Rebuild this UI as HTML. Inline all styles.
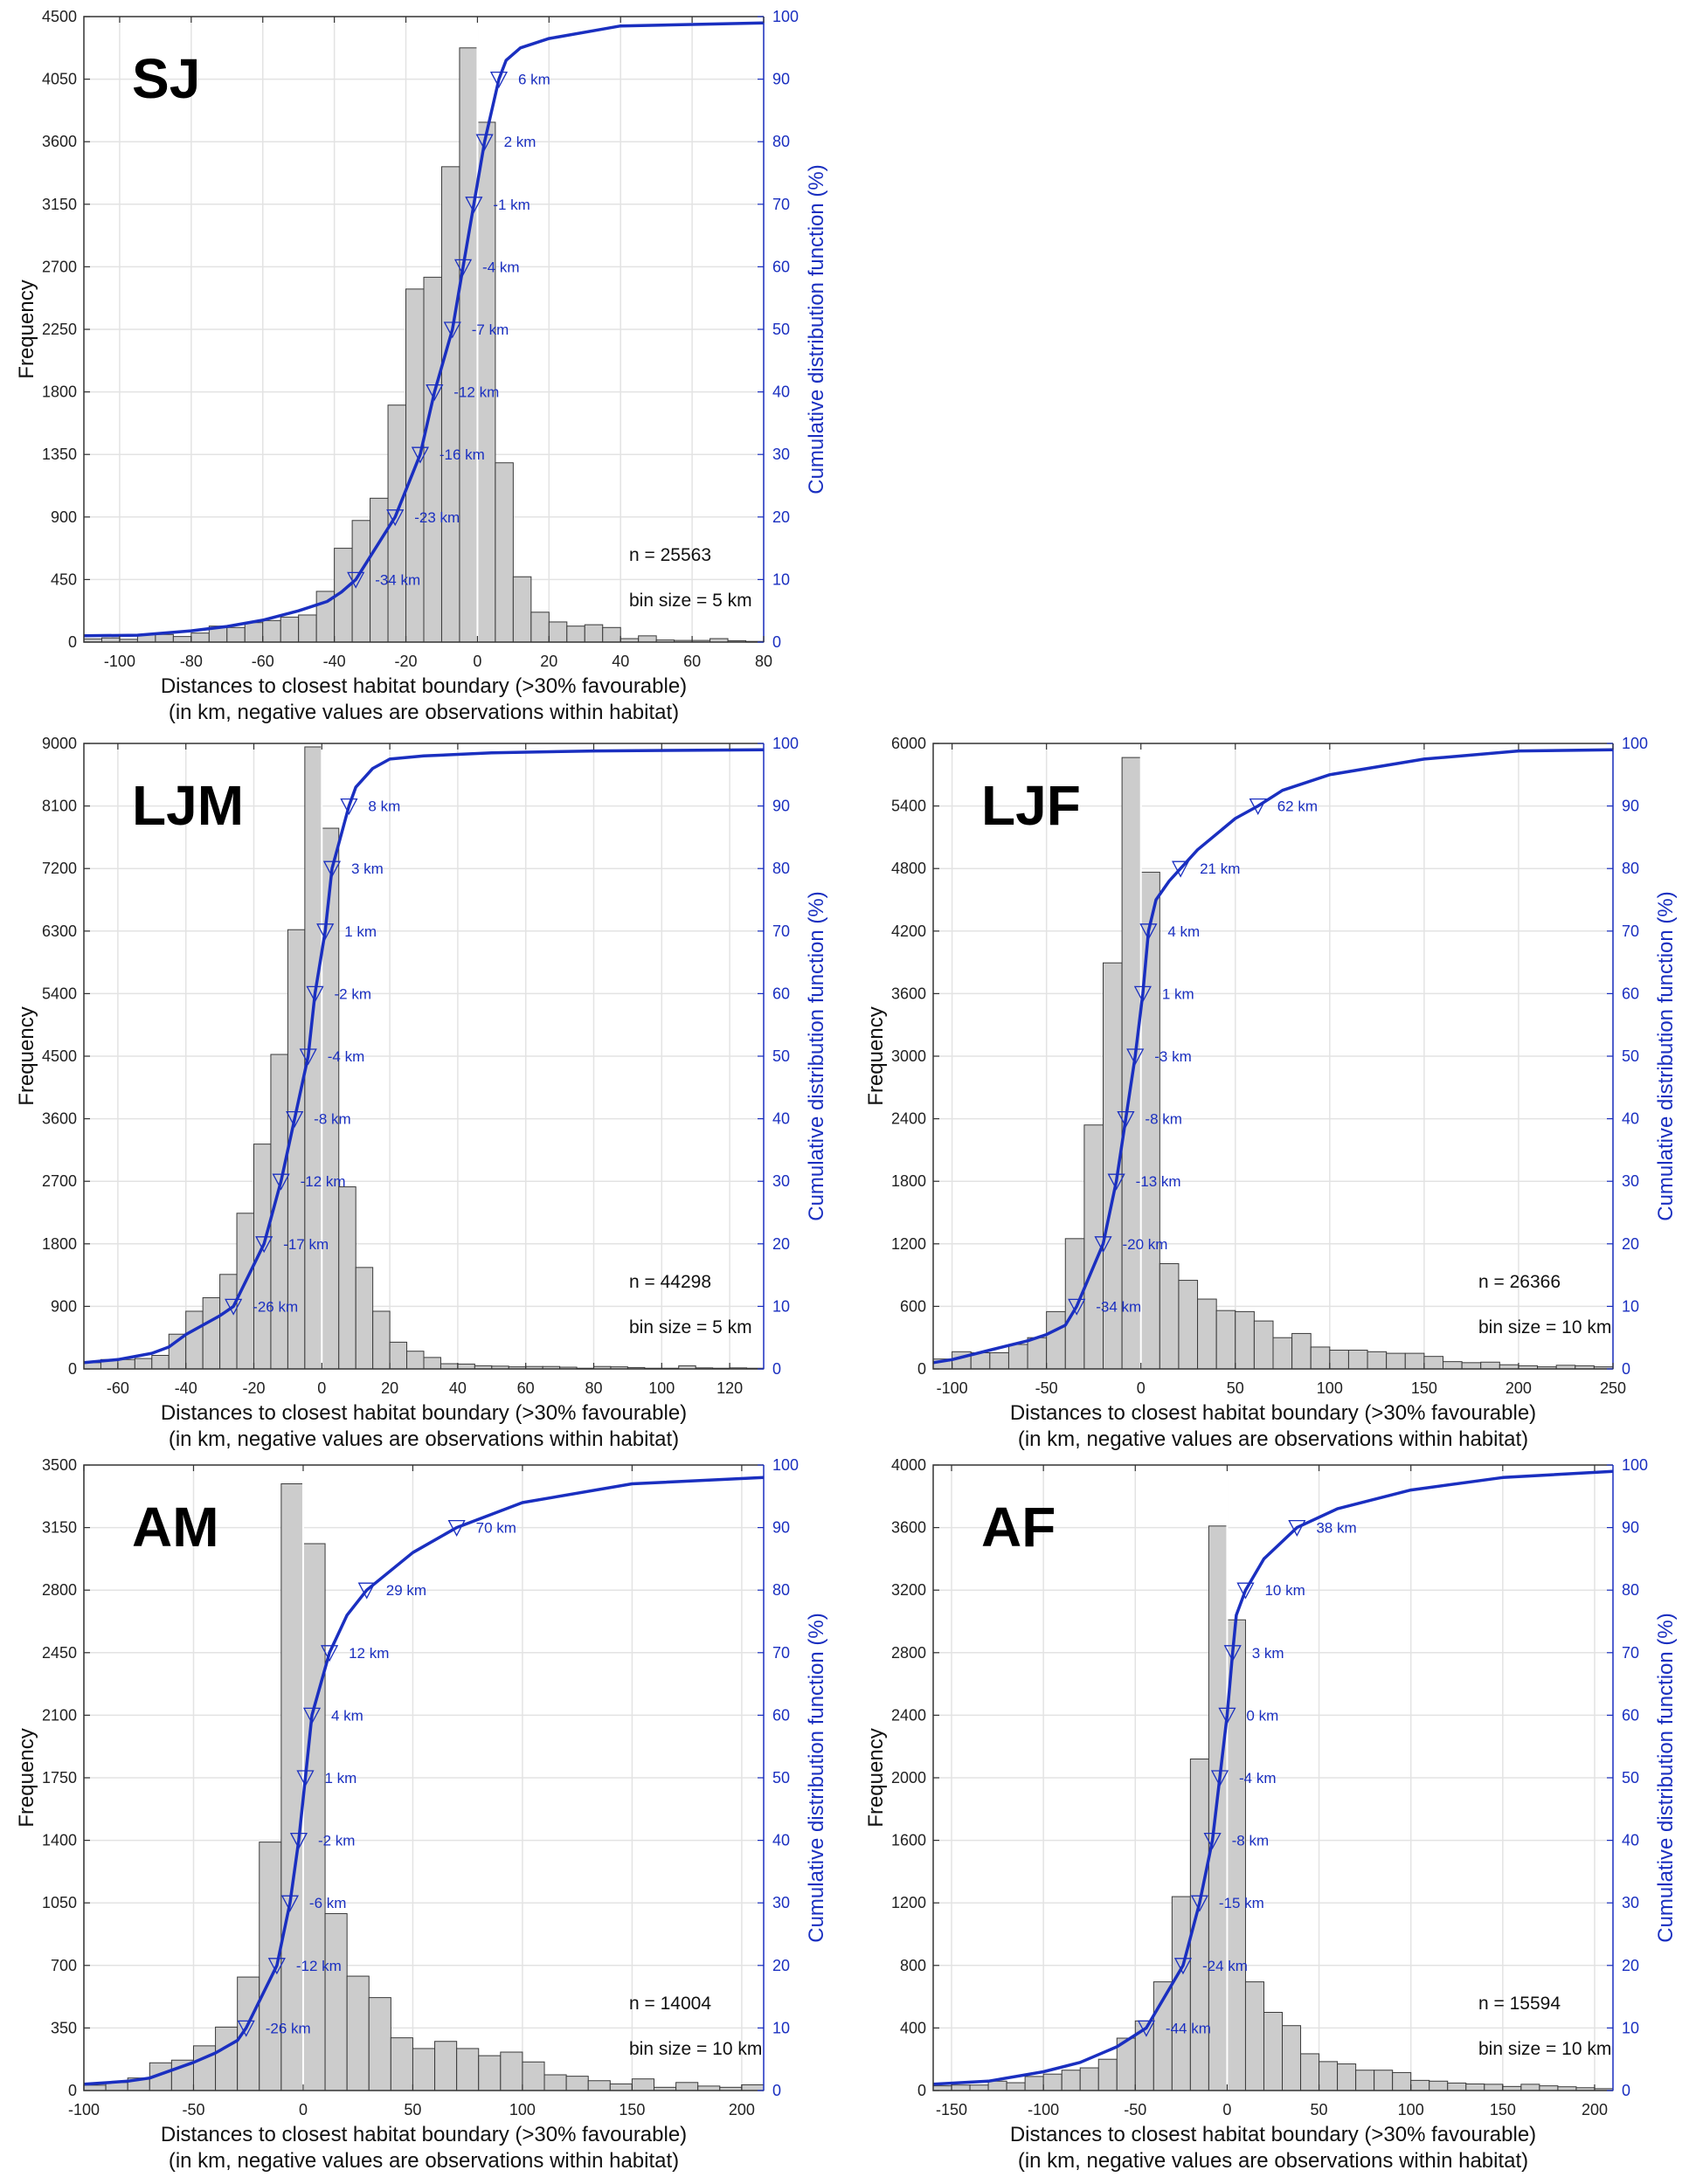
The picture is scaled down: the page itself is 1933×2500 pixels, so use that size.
<!DOCTYPE html>
<html><head><meta charset="utf-8"><style>
html,body{margin:0;padding:0;background:#fff;}
svg{display:block;font-family:"Liberation Sans",Arial,sans-serif;}
</style></head><body>
<svg id="fig" width="1933" height="2500" viewBox="0 0 1933 2500"></svg>
<script>
// ---------- SJ ----------
const sjCounts=[23,30,20,55,55,40,65,115,105,140,155,180,195,365,675,875,1035,1705,2540,2625,3420,4275,3740,1290,470,215,145,115,125,105,25,45,15,12,12,25,10,5];
const sjCdfX=[-110,-95,-80,-70,-60,-50,-42,-38,-34,-23,-16,-12,-7,-4,-1,2,6,8,12,20,35,40,80];
const sjCdfY=[1,1.1,1.8,2.5,3.5,5,6.5,8,10,20,30,40,50,60,70,80,90,93,95,96.5,98,98.5,99];
const sjMarkX=[-34,-23,-16,-12,-7,-4,-1,2,6];
const sjXTicks=[-100,-80,-60,-40,-20,0,20,40,60,80];
// ---------- LJM ----------
const ljmCounts=[90,135,135,150,195,500,830,1025,1360,2240,3235,4525,6320,8950,7780,2620,1460,830,385,255,165,75,70,45,40,30,35,35,25,10,35,30,20,10,10,45,15,10,15,10];
const ljmCdfX=[-70,-60,-50,-45,-40,-35,-30,-26,-17,-12,-8,-4,-2,1,3,8,10,15,20,30,50,80,130];
const ljmCdfY=[1,1.5,2.5,3.5,5.5,7,8.5,10,20,30,40,50,60,70,80,90,93,96,97.5,98,98.5,98.8,99];
const ljmMarkX=[-26,-17,-12,-8,-4,-2,1,3,8];
const ljmXTicks=[-60,-40,-20,0,20,40,60,80,100,120];
// ---------- LJF ----------
const ljfCounts=[95,165,155,155,235,300,550,1250,2340,3895,5865,4765,1010,850,670,560,550,460,300,340,210,180,180,165,150,150,120,70,60,65,40,30,20,35,30,20];
const ljfCdfX=[-110,-100,-80,-60,-50,-40,-34,-20,-13,-8,-3,1,4,8,15,21,30,50,62,75,100,150,200,250];
const ljfCdfY=[1,1.5,3,4.5,5.5,7,10,20,30,40,50,60,70,75,78,80,83,88,90,92.5,95,97.5,98.8,99];
const ljfMarkX=[-34,-20,-13,-8,-3,1,4,21,62];
const ljfXTicks=[-100,-50,0,50,100,150,200,250];
// ---------- AM ----------
const amCounts=[30,45,70,155,170,250,355,635,1390,3395,3060,990,640,520,295,235,275,235,195,215,160,88,80,55,37,65,18,45,25,18,32];
const amCdfX=[-100,-80,-70,-50,-40,-30,-26,-12,-6,-2,1,4,12,20,29,50,70,100,150,210];
const amCdfY=[1,1.5,2,4.5,6,8,10,20,30,40,50,60,70,76,80,86,90,94,97,98];
const amMarkX=[-26,-12,-6,-2,1,4,12,29,70];
const amXTicks=[-100,-50,0,50,100,150,200];
// ---------- AF ----------
const afCounts=[30,35,35,60,50,90,105,130,145,200,335,445,695,1240,2120,3610,3010,695,500,415,235,185,170,130,130,115,65,60,48,42,40,26,40,30,24,18,12];
const afCdfX=[-160,-130,-100,-80,-60,-44,-24,-15,-8,-4,0,3,5,10,20,38,60,100,150,210];
const afCdfY=[1,1.5,3,4.5,7,10,20,30,40,50,60,70,76,80,85,90,93,96,98,99];
const afMarkX=[-44,-24,-15,-8,-4,0,3,10,38];
const afXTicks=[-150,-100,-50,0,50,100,150,200];

const markPct=[10,20,30,40,50,60,70,80,90];
const cdfTicks=[0,10,20,30,40,50,60,70,80,90,100];

const panels=[
 {id:'sj',name:'SJ',left:96,top:19,xmin:-110,xmax:80,bin:5,ymax:4500,counts:sjCounts,cx:sjCdfX,cy:sjCdfY,mx:sjMarkX,xt:sjXTicks,n:'25563',binTxt:'5 km'},
 {id:'ljm',name:'LJM',left:96,top:851,xmin:-70,xmax:130,bin:5,ymax:9000,counts:ljmCounts,cx:ljmCdfX,cy:ljmCdfY,mx:ljmMarkX,xt:ljmXTicks,n:'44298',binTxt:'5 km'},
 {id:'ljf',name:'LJF',left:1068,top:851,xmin:-110,xmax:250,bin:10,ymax:6000,counts:ljfCounts,cx:ljfCdfX,cy:ljfCdfY,mx:ljfMarkX,xt:ljfXTicks,n:'26366',binTxt:'10 km'},
 {id:'am',name:'AM',left:96,top:1677,xmin:-100,xmax:210,bin:10,ymax:3500,counts:amCounts,cx:amCdfX,cy:amCdfY,mx:amMarkX,xt:amXTicks,n:'14004',binTxt:'10 km'},
 {id:'af',name:'AF',left:1068,top:1677,xmin:-160,xmax:210,bin:10,ymax:4000,counts:afCounts,cx:afCdfX,cy:afCdfY,mx:afMarkX,xt:afXTicks,n:'15594',binTxt:'10 km'}
];
const W=778,H=716,BLUE='#1a2fc0',NS='http://www.w3.org/2000/svg';
const svg=document.getElementById('fig');
function mk(tag,attrs,parent,text){const e=document.createElementNS(NS,tag);for(const k in attrs)e.setAttribute(k,attrs[k]);if(text!==undefined)e.textContent=text;(parent||svg).appendChild(e);return e;}

panels.forEach(p=>{
 const g=mk('g',{});
 
 
 const L=p.left,T=p.top,B=T+H,R=L+W;
 const sx=v=>L+(v-p.xmin)/(p.xmax-p.xmin)*W;
 const sy=v=>B-v/p.ymax*H;
 const sp=v=>B-v/100*H;
 for(let i=1;i<10;i++){const l=mk('line',{x1:L,x2:R,y1:sp(i*10),y2:sp(i*10),stroke:'#e3e3e3','stroke-width':1.5},g);
  }
 p.xt.forEach(t=>{const l=mk('line',{x1:sx(t),x2:sx(t),y1:T,y2:B,stroke:'#e3e3e3','stroke-width':1.5},g);
  });
 p.counts.forEach((c,i)=>{const x0=p.xmin+i*p.bin;const r=mk('rect',{x:sx(x0),y:sy(c),width:sx(x0+p.bin)-sx(x0),height:B-sy(c),fill:'#cccccc',stroke:'#3a3a3a','stroke-width':1},g);
  });
 const z=mk('line',{x1:sx(0),x2:sx(0),y1:T,y2:B,stroke:'#fff','stroke-width':2},g);
 
 const pts=p.cx.map((x,i)=>sx(x).toFixed(1)+','+sp(p.cy[i]).toFixed(1)).join(' ');
 const pl=mk('polyline',{points:pts,fill:'none',stroke:BLUE,'stroke-width':3.5,'stroke-linejoin':'round'},g);
 
 p.mx.forEach((m,i)=>{const x=sx(m),y=sp(markPct[i]);
  const tr=mk('polygon',{points:`${x-9},${y-8} ${x+9},${y-8} ${x},${y+9}`,fill:'none',stroke:BLUE,'stroke-width':1.3},g);
  
  const tx=mk('text',{x:x+22,y:y+6,'font-size':17,fill:BLUE},g,m+' km');
  });
 const ax=mk('path',{d:`M${R},${T} L${L},${T} L${L},${B} L${R},${B}`,fill:'none',stroke:'#333','stroke-width':1.5},g);
 
 const ra=mk('line',{x1:R,x2:R,y1:T,y2:B,stroke:BLUE,'stroke-width':1.5},g);
 
 for(let i=0;i<=10;i++){const v=p.ymax/10*i;const y=sy(v);
  mk('line',{x1:L,x2:L+7,y1:y,y2:y,stroke:'#333','stroke-width':1.2},g);
  const t=mk('text',{x:L-8,y:y+6,'font-size':18,'text-anchor':'end',fill:'#222'},g,String(Math.round(v)));
  }
 cdfTicks.forEach(v=>{const y=sp(v);
  mk('line',{x1:R-7,x2:R,y1:y,y2:y,stroke:BLUE,'stroke-width':1.2},g);
  const t=mk('text',{x:R+10,y:y+6,'font-size':18,fill:BLUE},g,String(v));
  });
 p.xt.forEach(v=>{const x=sx(v);
  mk('line',{x1:x,x2:x,y1:B-7,y2:B,stroke:'#333','stroke-width':1.2},g);
  mk('line',{x1:x,x2:x,y1:T,y2:T+7,stroke:'#333','stroke-width':1.2},g);
  const t=mk('text',{x:x,y:B+28,'font-size':18,'text-anchor':'middle',fill:'#222'},g,String(v));
  });
 const yl=mk('text',{x:0,y:0,'font-size':24,'text-anchor':'middle',fill:'#111',transform:`translate(${L-58},${T+H/2}) rotate(-90)`},g,'Frequency');
 
 const rl=mk('text',{x:0,y:0,'font-size':24,'text-anchor':'middle',fill:BLUE,transform:`translate(${R+68},${T+H/2}) rotate(-90)`},g,'Cumulative distribution function (%)');
 
 const x1=mk('text',{x:L+W/2,y:B+58,'font-size':24,'text-anchor':'middle',fill:'#111'},g,'Distances to closest habitat boundary (>30% favourable)');
 
 const x2=mk('text',{x:L+W/2,y:B+88,'font-size':24,'text-anchor':'middle',fill:'#111'},g,'(in km, negative values are observations within habitat)');
 
 const pn=mk('text',{x:L+55,y:T+93,'font-size':64,'font-weight':'bold',fill:'#000'},g,p.name);
 
 const nt=mk('text',{x:L+624,y:T+623,'font-size':21,fill:'#111'},g,'n = '+p.n);
 
 const bt=mk('text',{x:L+624,y:T+675,'font-size':21,fill:'#111'},g,'bin size = '+p.binTxt);
 
});
</script>
</body></html>
